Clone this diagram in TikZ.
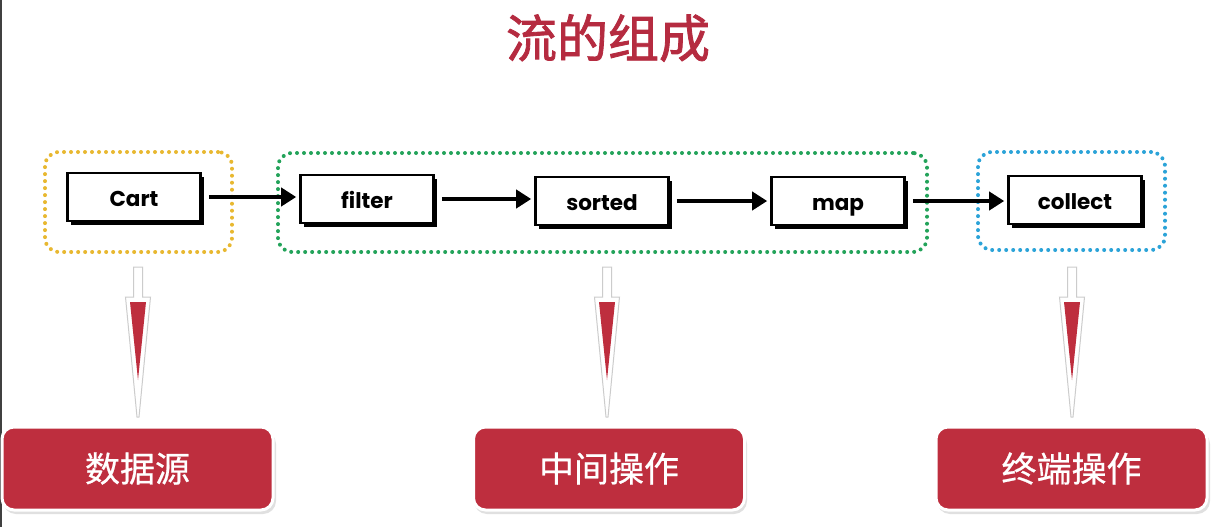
\documentclass[tikz,border=0pt]{standalone}
\usepackage{fontspec}
\setmainfont{Poppins}
\newfontfamily\cjk{Noto Sans CJK SC}
\newfontfamily\cjktitle[FakeBold=1.6]{Noto Sans CJK SC}
\newfontfamily\cjklabel[FakeBold=0.6]{Noto Sans CJK SC}
\usetikzlibrary{arrows.meta,shadows}
\definecolor{titlered}{HTML}{B52B40}
\definecolor{boxred}{HTML}{BE2E3E}
\definecolor{dotyellow}{HTML}{E8B830}
\definecolor{dotgreen}{HTML}{23A35A}
\definecolor{dotblue}{HTML}{2BA3D8}
\tikzset{
  opbox/.style={draw=black, line width=2.6pt, fill=white, minimum width=133pt, minimum height=48pt,
    inner sep=0pt, text height=23pt, text depth=4pt, font=\fontsize{21.5}{24}\selectfont\bfseries,
    drop shadow={fill=black, opacity=1, shadow xshift=3.5pt, shadow yshift=-3.5pt}},
  group/.style={draw=#1, line width=4pt, dash pattern=on 0pt off 7pt, line cap=round,
    rounded corners=14pt, inner sep=0pt},
  flow/.style={line width=4pt, -{Triangle[length=15pt,width=18pt]}, shorten <=7pt, shorten >=3pt},
  redbox/.style={fill=boxred, draw=white, line width=3pt, rounded corners=12pt,
    minimum width=271pt, minimum height=83pt, inner sep=0pt, text=white,
    font=\cjklabel\fontsize{35}{40}\selectfont},
  pics/downarrow/.style={code={
    \fill[white, draw=black!20, line width=1pt]
      (-4.5,0) -- (4.5,0) -- (4.5,30) -- (12.5,30) -- (1,150) -- (-1,150) -- (-12.5,30) -- (-4.5,30) -- cycle;
    \fill[boxred] (-8,35) -- (8,35) -- (0,113) -- cycle;
  }}
}
\begin{document}
\begin{tikzpicture}[x=1pt,y=-1pt]
\useasboundingbox[fill=white] (0,0) rectangle (1223,527);
\draw[black!75, line width=1.5pt] (0.75,0) -- (0.75,527);

\node[text=titlered, font=\cjktitle\fontsize{51}{56}\selectfont] (title) at (608,38) {流的组成};

% groups
\node[group=dotyellow, minimum width=187pt, minimum height=100pt] (gsrc) at (138.5,202) {};
\node[group=dotgreen, minimum width=649pt, minimum height=99pt] (gmid) at (602.5,202.5) {};
\node[group=dotblue, minimum width=187pt, minimum height=98pt] (gend) at (1071.5,201) {};

% operation boxes
\node[opbox] (cart) at (134,197) {Cart};
\node[opbox] (filter) at (367,199) {filter};
\node[opbox] (sorted) at (602,201) {sorted};
\node[opbox] (map) at (838,201) {map};
\node[opbox] (collect) at (1075,200) {collect};

\draw[flow] (cart.east) -- (cart.east -| filter.west);
\draw[flow] (filter.east) -- (filter.east -| sorted.west);
\draw[flow] (sorted.east) -- (sorted.east -| map.west);
\draw[flow] (map.east) -- (map.east -| collect.west);

% red label boxes
\fill[black!12, rounded corners=13pt] (3,431) rectangle (276,514);
\fill[black!12, rounded corners=13pt] (474,431) rectangle (747,514);
\fill[black!12, rounded corners=13pt] (937,431) rectangle (1210,514);
\node[redbox] (lsrc) at (137.5,468.5) {数据源};
\node[redbox] (lmid) at (609,468.5) {中间操作};
\node[redbox] (lend) at (1071.5,468.5) {终端操作};

% down arrows
\coordinate (a1) at (138,267);
\coordinate (a2) at (607,267);
\coordinate (a3) at (1072,267);
\pic at (a1) {downarrow};
\pic at (a2) {downarrow};
\pic at (a3) {downarrow};
\end{tikzpicture}
\end{document}
